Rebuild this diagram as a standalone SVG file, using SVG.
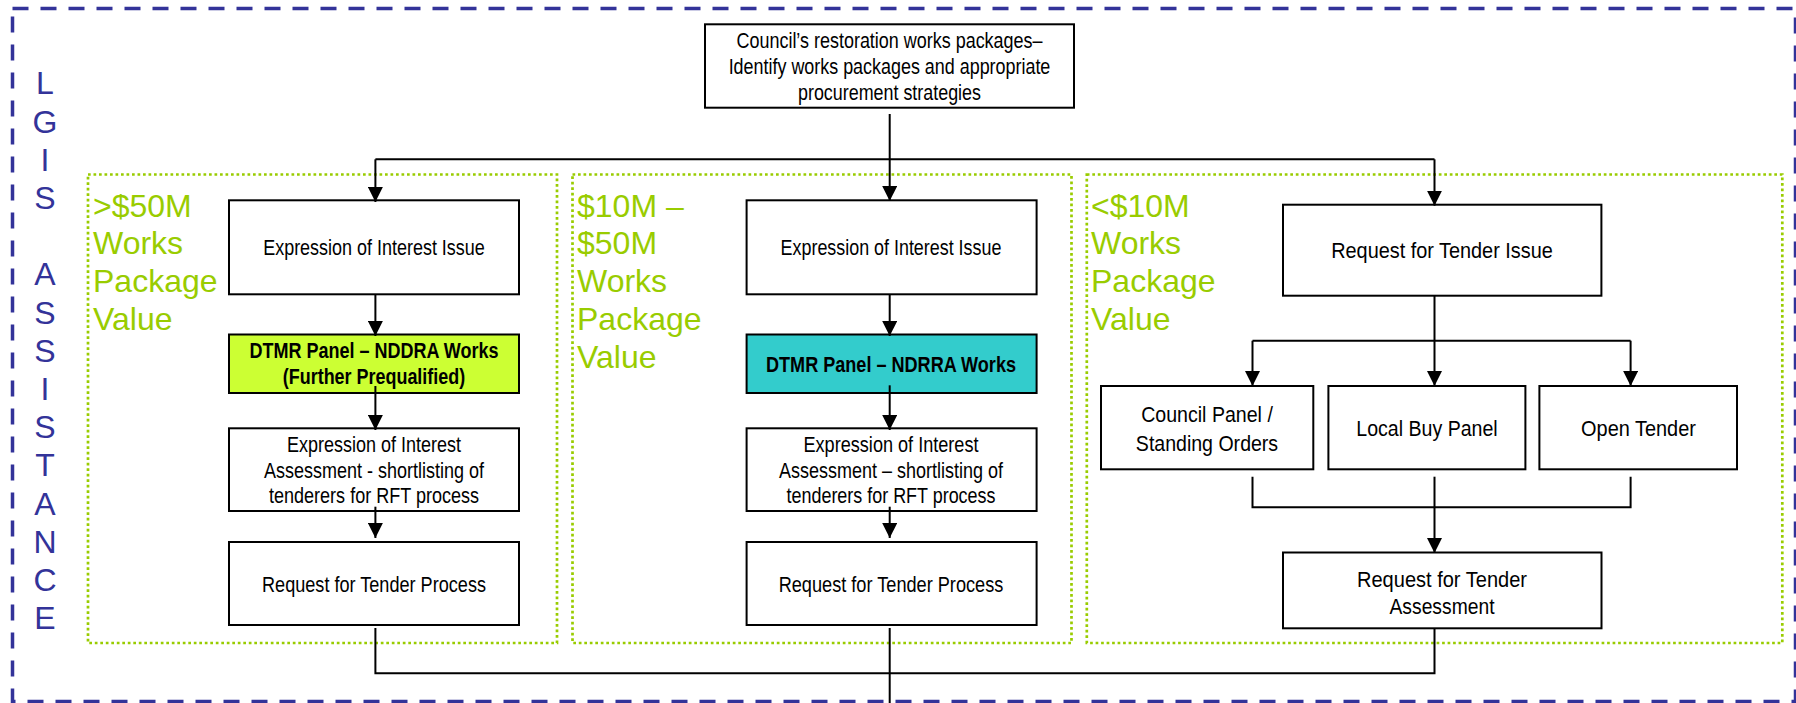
<svg xmlns="http://www.w3.org/2000/svg" width="1796" height="703" viewBox="0 0 1796 703">
<style>
.box{fill:#fff;stroke:#000;stroke-width:2}
.t{font-family:"Liberation Sans Narrow","Liberation Sans",Arial,sans-serif;font-size:22px;fill:#000;text-anchor:middle}
.b{font-weight:bold}
.g{font-family:"Liberation Sans",Arial,sans-serif;font-size:32px;fill:#99cc00}
.l{font-family:"Liberation Sans",Arial,sans-serif;font-size:32px;fill:#333399;text-anchor:middle}
.zone{fill:none;stroke:#99cc00;stroke-width:2.7;stroke-dasharray:2.7 2.8}
.c{fill:none;stroke:#000;stroke-width:2}
.a{marker-end:url(#ah)}
</style>
<defs>
<marker id="ah" viewBox="0 0 15 15" refX="15" refY="7.5" markerWidth="15" markerHeight="15" markerUnits="userSpaceOnUse" orient="auto">
<path d="M0 0 L15 7.5 L0 15 z" fill="#000"/>
</marker>
</defs>
<rect width="1796" height="703" fill="#fff"/>
<g id="border">
<rect x="12.5" y="8.5" width="1783" height="693" fill="none" stroke="#333399" stroke-width="3.5" stroke-dasharray="16 12"/>
</g>
<g id="lgis">
<text class="l" x="45" y="94.3">L</text>
<text class="l" x="45" y="132.5">G</text>
<text class="l" x="45" y="170.7">I</text>
<text class="l" x="45" y="208.9">S</text>
<text class="l" x="45" y="285.3">A</text>
<text class="l" x="45" y="323.5">S</text>
<text class="l" x="45" y="361.7">S</text>
<text class="l" x="45" y="399.9">I</text>
<text class="l" x="45" y="438.1">S</text>
<text class="l" x="45" y="476.3">T</text>
<text class="l" x="45" y="514.5">A</text>
<text class="l" x="45" y="552.7">N</text>
<text class="l" x="45" y="590.9">C</text>
<text class="l" x="45" y="629.1">E</text>
</g>
<g id="zone1">
<rect class="zone" x="88" y="174.5" width="469" height="468.5"/>
<text class="g" x="93" y="216.5">&gt;$50M</text>
<text class="g" x="93" y="254">Works</text>
<text class="g" x="93" y="292">Package</text>
<text class="g" x="93" y="330">Value</text>
</g>
<g id="zone2">
<rect class="zone" x="572.5" y="174.5" width="499" height="468.5"/>
<text class="g" x="577" y="216.5">$10M –</text>
<text class="g" x="577" y="254">$50M</text>
<text class="g" x="577" y="292">Works</text>
<text class="g" x="577" y="330">Package</text>
<text class="g" x="577" y="367.5">Value</text>
</g>
<g id="zone3">
<rect class="zone" x="1086.8" y="174.5" width="695.5" height="468.5"/>
<text class="g" x="1091" y="216.5">&lt;$10M</text>
<text class="g" x="1091" y="254">Works</text>
<text class="g" x="1091" y="292">Package</text>
<text class="g" x="1091" y="330">Value</text>
</g>
<g id="council">
<rect class="box" x="705" y="24.3" width="369" height="83.4"/>
<text class="t" x="889.5" y="48.3" textLength="306" lengthAdjust="spacingAndGlyphs">Council’s restoration works packages–</text>
<text class="t" x="889.5" y="74" textLength="321.7" lengthAdjust="spacingAndGlyphs">Identify works packages and appropriate</text>
<text class="t" x="889.5" y="99.5" textLength="183" lengthAdjust="spacingAndGlyphs">procurement strategies</text>
</g>
<g id="c1-eoi">
<rect class="box" x="229" y="200.3" width="290" height="94"/>
<text class="t" x="374" y="255" textLength="221.6" lengthAdjust="spacingAndGlyphs">Expression of Interest Issue</text>
</g>
<g id="c1-dtmr">
<rect class="box" x="229" y="334.5" width="290" height="58.5" fill="#ccff33" style="fill:#ccff33"/>
<text class="t b" x="374" y="358.3" textLength="249" lengthAdjust="spacingAndGlyphs">DTMR Panel – NDDRA Works</text>
<text class="t b" x="374" y="383.5" textLength="182.4" lengthAdjust="spacingAndGlyphs">(Further Prequalified)</text>
</g>
<g id="c1-assess">
<rect class="box" x="229" y="428.3" width="290" height="82.7"/>
<text class="t" x="374" y="451.7" textLength="174" lengthAdjust="spacingAndGlyphs">Expression of Interest</text>
<text class="t" x="374" y="477.7" textLength="220" lengthAdjust="spacingAndGlyphs">Assessment - shortlisting of</text>
<text class="t" x="374" y="503.3" textLength="210" lengthAdjust="spacingAndGlyphs">tenderers for RFT process</text>
</g>
<g id="c1-rft">
<rect class="box" x="229" y="542" width="290" height="83"/>
<text class="t" x="374" y="591.7" textLength="224" lengthAdjust="spacingAndGlyphs">Request for Tender Process</text>
</g>
<g id="c2-eoi">
<rect class="box" x="746.6" y="200.3" width="290" height="94"/>
<text class="t" x="891" y="255" textLength="220.8" lengthAdjust="spacingAndGlyphs">Expression of Interest Issue</text>
</g>
<g id="c2-dtmr">
<rect class="box" x="746.6" y="334.5" width="290" height="58.5" style="fill:#33cccc"/>
<text class="t b" x="891" y="371.7" textLength="250" lengthAdjust="spacingAndGlyphs">DTMR Panel – NDRRA Works</text>
</g>
<g id="c2-assess">
<rect class="box" x="746.6" y="428.3" width="290" height="82.7"/>
<text class="t" x="891" y="451.7" textLength="175" lengthAdjust="spacingAndGlyphs">Expression of Interest</text>
<text class="t" x="891" y="477.7" textLength="224" lengthAdjust="spacingAndGlyphs">Assessment – shortlisting of</text>
<text class="t" x="891" y="503.3" textLength="209" lengthAdjust="spacingAndGlyphs">tenderers for RFT process</text>
</g>
<g id="c2-rft">
<rect class="box" x="746.6" y="542" width="290" height="83"/>
<text class="t" x="891" y="591.7" textLength="224.7" lengthAdjust="spacingAndGlyphs">Request for Tender Process</text>
</g>
<g id="c3-rft-issue">
<rect class="box" x="1283" y="204.7" width="318.4" height="91"/>
<text class="t" x="1442" y="258.3" textLength="221.6" lengthAdjust="spacingAndGlyphs">Request for Tender Issue</text>
</g>
<g id="c3-council-panel">
<rect class="box" x="1101" y="386" width="212.3" height="83.3"/>
<text class="t" x="1207" y="421.7" textLength="131.7" lengthAdjust="spacingAndGlyphs">Council Panel /</text>
<text class="t" x="1207" y="450.7" textLength="142.3" lengthAdjust="spacingAndGlyphs">Standing Orders</text>
</g>
<g id="c3-local-buy">
<rect class="box" x="1328.4" y="386" width="197" height="83.3"/>
<text class="t" x="1427" y="436" textLength="141.4" lengthAdjust="spacingAndGlyphs">Local Buy Panel</text>
</g>
<g id="c3-open-tender">
<rect class="box" x="1539.4" y="386" width="197.6" height="83.3"/>
<text class="t" x="1638.5" y="436" textLength="114.8" lengthAdjust="spacingAndGlyphs">Open Tender</text>
</g>
<g id="c3-rft-assess">
<rect class="box" x="1283" y="552.5" width="318.5" height="75.8"/>
<text class="t" x="1442" y="586.7" textLength="170" lengthAdjust="spacingAndGlyphs">Request for Tender</text>
<text class="t" x="1442" y="614" textLength="105" lengthAdjust="spacingAndGlyphs">Assessment</text>
</g>
<g id="connectors">
<path class="c" d="M375.4 159.3 H1434.5"/>
<path class="c a" d="M889.7 114 V201"/>
<path class="c a" d="M375.4 159.3 V202"/>
<path class="c a" d="M1434.5 159.3 V205.7"/>
<path class="c a" d="M375.4 294.3 V336"/>
<path class="c a" d="M375.4 386 V430"/>
<path class="c a" d="M375.4 506.7 V538"/>
<path class="c a" d="M889.7 294.3 V336"/>
<path class="c a" d="M889.7 385.3 V430"/>
<path class="c a" d="M889.7 506.7 V538"/>
<path class="c" d="M375.4 628 V673.3 H1434.5 V628.3"/>
<path class="c" d="M889.7 628 V703"/>
<path class="c" d="M1434.5 295.7 V340.7"/>
<path class="c" d="M1252.5 340.7 H1630.6"/>
<path class="c a" d="M1252.5 340.7 V386"/>
<path class="c a" d="M1434.5 340.7 V386"/>
<path class="c a" d="M1630.6 340.7 V386"/>
<path class="c" d="M1252.5 476.7 V507.3 H1630.6 V476.7"/>
<path class="c a" d="M1434.5 476.7 V553"/>
</g>
</svg>
